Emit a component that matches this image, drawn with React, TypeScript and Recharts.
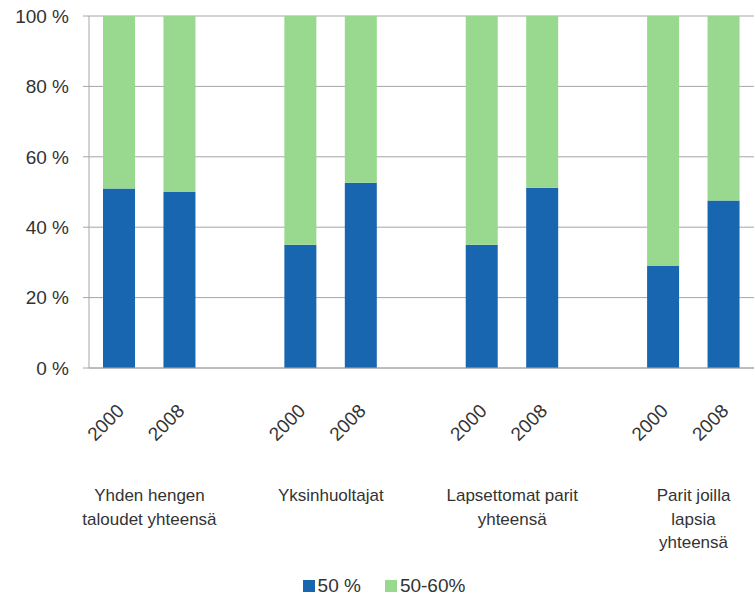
import React from "react";
import {
  Bar,
  BarChart,
  CartesianGrid,
  Legend,
  XAxis,
  YAxis,
} from "recharts";

const groups = [
  ["Yhden hengen", "taloudet yhteensä"],
  ["Yksinhuoltajat"],
  ["Lapsettomat parit", "yhteensä"],
  ["Parit joilla", "lapsia", "yhteensä"],
];
const years = ["2000", "2008"];
// share per bar, in group order: 2000, 2008
const under50 = [51, 50, 35, 52.6, 35, 51.2, 29, 47.6];
const from50to60 = [49, 50, 65, 47.4, 65, 48.8, 71, 52.4];
const yTicks = [0, 20, 40, 60, 80, 100];

const BLUE = "#1866b0";
const GREEN = "#99d98f";
const GRID = "#a6a6a6";
const TEXT = "#333333";
const FONT = "'Liberation Sans', Arial, sans-serif";

const W = 755;
const H = 603;
const LEFT = 89;
const RIGHT = 1;

type Row = { key: string; year: string; group: number; a?: number; b?: number };

const rows: Row[] = [];
groups.forEach((_, g) => {
  if (g > 0) rows.push({ key: `gap${g}`, year: "", group: -1 });
  years.forEach((y, j) => {
    const i = g * years.length + j;
    rows.push({ key: `${g}-${y}`, year: y, group: j === years.length - 1 ? g : -1, a: under50[i], b: from50to60[i] });
  });
});

const slot = (W - LEFT - RIGHT) / rows.length;

function YearTick(props: any) {
  const { x, y, payload } = props;
  const row = rows[payload.index];
  if (!row || !row.year) return null;
  const lines = row.group >= 0 ? groups[row.group] : null;
  return (
    <g>
      <text
        transform={`translate(${x + 6},${y + 36}) rotate(-45)`}
        textAnchor="end"
        fontSize={19}
        fill={TEXT}
        fontFamily={FONT}
      >
        {row.year}
      </text>
      {lines ? (
        <text
          x={x - slot / 2}
          y={y + 125}
          textAnchor="middle"
          fontSize={17}
          fill={TEXT}
          fontFamily={FONT}
        >
          {lines.map((l, k) => (
            <tspan key={k} x={x - slot / 2} dy={k === 0 ? 0 : 23.5}>
              {l}
            </tspan>
          ))}
        </text>
      ) : null}
    </g>
  );
}

function LegendBox() {
  const item = (color: string, label: string, gap: number) => (
    <span style={{ display: "inline-flex", alignItems: "center", marginRight: gap }}>
      <span style={{ width: 12, height: 12, background: color, display: "inline-block", marginRight: 3 }} />
      {label}
    </span>
  );
  return (
    <div
      style={{
        display: "flex",
        justifyContent: "center",
        paddingTop: 22,
        paddingLeft: 14,
        fontFamily: FONT,
        fontSize: 19,
        color: TEXT,
      }}
    >
      {item(BLUE, "50 %", 24)}
      {item(GREEN, "50-60%", 0)}
    </div>
  );
}

export default function App() {
  return (
    <div style={{ position: "absolute", left: 0, top: 0, background: "#fff" }}>
      <BarChart
        width={W}
        height={H}
        data={rows}
        margin={{ top: 16, right: RIGHT, left: 0, bottom: 0 }}
        barSize={32}
      >
        <CartesianGrid vertical={false} stroke={GRID} />
        <XAxis
          dataKey="key"
          interval={0}
          tickLine={false}
          axisLine={{ stroke: GRID }}
          height={185}
          tick={<YearTick />}
        />
        <YAxis
          width={LEFT}
          domain={[0, 100]}
          ticks={yTicks}
          tickFormatter={(v) => `${v} %`}
          tickSize={6}
          tickMargin={14}
          tickLine={{ stroke: GRID }}
          axisLine={{ stroke: GRID }}
          tick={{ fontSize: 19, fill: TEXT, fontFamily: FONT }}
        />
        <Legend verticalAlign="bottom" height={50} content={<LegendBox />} />
        <Bar dataKey="a" stackId="s" fill={BLUE} isAnimationActive={false} />
        <Bar dataKey="b" stackId="s" fill={GREEN} isAnimationActive={false} />
      </BarChart>
    </div>
  );
}
